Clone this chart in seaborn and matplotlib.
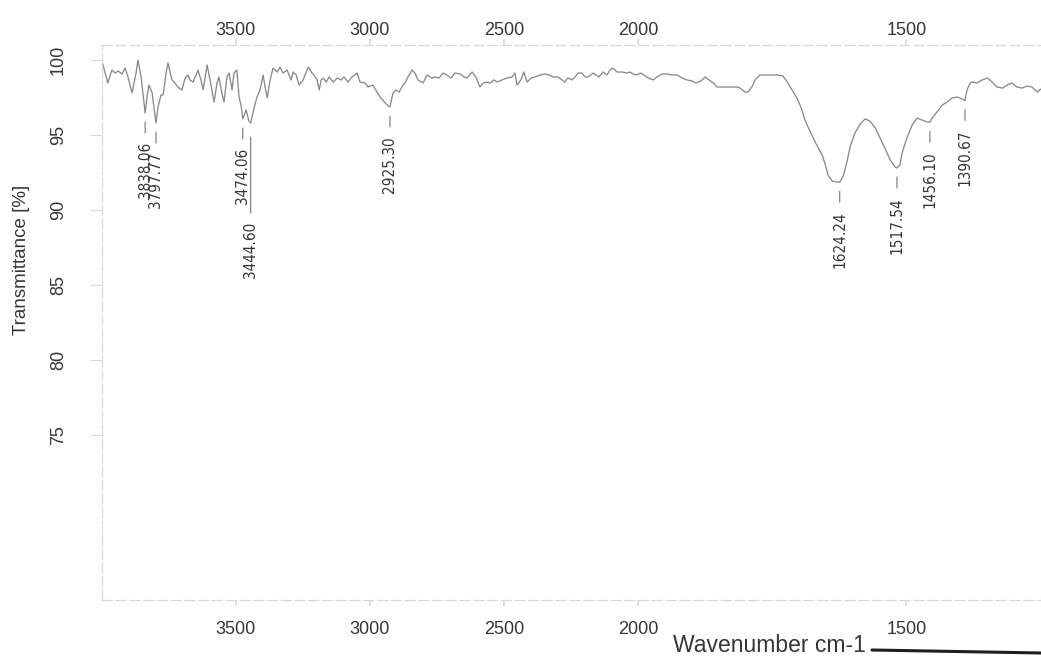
import numpy as np
import pandas as pd
import matplotlib
matplotlib.use("Agg")
import matplotlib.pyplot as plt
from matplotlib import font_manager as fm
from matplotlib.lines import Line2D
import seaborn as sns

# IR spectrum, wavenumber (cm-1) and transmittance (%)
wavenumber = [
    4000, 3977, 3962, 3950, 3939, 3924, 3913, 3902, 3887, 3872, 3865, 3853,
    3838.06, 3831, 3824, 3812, 3797.77, 3790, 3779, 3771, 3760, 3753, 3738,
    3727, 3716, 3701, 3689, 3678, 3671, 3660, 3648, 3641, 3630, 3622, 3607,
    3596, 3581, 3570, 3563, 3552, 3544, 3533, 3525, 3514, 3507, 3496, 3488,
    3480, 3474.06, 3462, 3451, 3444.60, 3432, 3421, 3410, 3398, 3391, 3383,
    3372, 3361, 3346, 3335, 3324, 3309, 3294, 3286, 3275, 3264, 3249, 3242,
    3230, 3216, 3208, 3197, 3189, 3182, 3175, 3163, 3152, 3137, 3122, 3107,
    3097, 3082, 3067, 3048, 3037, 3018, 3007, 2989, 2974, 2959, 2940,
    2925.30, 2914, 2903, 2891, 2877, 2869, 2858, 2843, 2832, 2821, 2802,
    2787, 2769, 2757, 2742, 2728, 2713, 2698, 2683, 2664, 2649, 2638, 2619,
    2605, 2590, 2578, 2564, 2552, 2537, 2526, 2508, 2489, 2470, 2459, 2452,
    2437, 2426, 2414, 2399, 2385, 2366, 2347, 2332, 2317, 2299, 2284, 2273,
    2262, 2247, 2235, 2224, 2209, 2198, 2187, 2168, 2157, 2146, 2131, 2116,
    2105, 2094, 2079, 2060, 2042, 2030, 2019, 2004, 1996, 1989, 1981, 1972,
    1965, 1955, 1946, 1937, 1927, 1918, 1909, 1899, 1892, 1883, 1875, 1870,
    1860, 1853, 1843, 1834, 1825, 1815, 1810, 1801, 1795, 1788, 1782, 1773,
    1760, 1741, 1730, 1722, 1713, 1704, 1696, 1689, 1679, 1670, 1664, 1657,
    1651, 1646, 1638, 1631, 1624.24, 1617, 1610, 1605, 1596, 1586, 1577,
    1568, 1558, 1549, 1540, 1530, 1521, 1517.54, 1512, 1508, 1499, 1489,
    1480, 1471, 1461, 1456.10, 1452, 1443, 1433, 1424, 1415, 1405, 1400,
    1390.67, 1387, 1381, 1377, 1368, 1359, 1349, 1340, 1331, 1321, 1312,
    1303, 1294, 1284, 1275, 1266, 1256, 1249,
]
transmittance = [
    100.0, 98.47, 99.33, 99.13, 99.27, 99.07, 99.47, 98.87, 97.8, 99.13, 100.0, 98.87,
    96.47, 97.53, 98.33, 97.8, 95.8, 96.87, 97.67, 97.67, 99.13, 99.8, 98.67,
    98.47, 98.2, 98.0, 98.8, 99.0, 98.67, 98.53, 99.0, 99.33, 98.67, 98.0, 99.67,
    98.67, 97.2, 98.47, 98.87, 97.8, 97.2, 98.87, 99.13, 98.0, 99.13, 99.33, 97.53,
    96.93, 96.07, 96.67, 95.93, 95.8, 96.8, 97.53, 98.0, 99.0, 98.2, 97.47,
    98.67, 99.47, 99.2, 99.53, 99.13, 99.33, 98.67, 99.2, 99.0, 98.33, 98.67, 99.0,
    99.53, 99.13, 99.0, 98.67, 98.0, 98.67, 98.8, 98.53, 98.87, 98.53, 98.8, 98.67,
    98.87, 98.53, 98.87, 99.13, 98.53, 98.47, 98.2, 98.33, 97.87, 97.47, 97.07,
    96.87, 97.8, 98.0, 97.87, 98.33, 98.47, 98.87, 99.33, 99.13, 98.67, 98.47,
    99.0, 98.8, 98.87, 98.8, 99.13, 99.0, 98.8, 99.13, 99.07, 98.87, 98.8, 99.2,
    98.87, 98.2, 98.47, 98.53, 98.47, 98.67, 98.53, 98.67, 98.8, 98.87, 99.13, 98.33,
    98.67, 99.2, 98.53, 98.8, 98.87, 99.0, 99.07, 99.0, 98.87, 98.87, 98.67, 98.53,
    98.8, 98.67, 98.87, 99.13, 99.13, 98.87, 98.87, 99.13, 99.0, 98.87, 99.2, 99.0,
    99.33, 99.47, 99.2, 99.2, 99.13, 99.2, 99.07, 99.0, 99.13, 99.0, 98.8, 98.67,
    98.87, 99.07, 99.07, 99.0, 99.0, 98.8, 98.67, 98.6, 98.47, 98.6, 98.87, 98.73,
    98.47, 98.2, 98.2, 98.2, 98.2, 98.2, 98.13, 97.87, 97.87, 98.2, 98.67, 99.0,
    99.0, 99.0, 98.93, 98.53, 98.0, 97.47, 96.8, 96.0, 95.2, 94.53, 94.13, 93.67,
    93.0, 92.33, 91.93, 91.87, 91.85, 92.33, 93.33, 94.2, 95.13, 95.73, 96.07,
    95.93, 95.47, 94.8, 94.13, 93.33, 92.87, 92.8, 93.0, 93.8, 94.8, 95.67,
    96.13, 96.0, 95.87, 95.85, 96.13, 96.53, 97.0, 97.2, 97.47, 97.53, 97.47,
    97.3, 98.0, 98.47, 98.53, 98.47, 98.67, 98.8, 98.53, 98.2, 98.13, 98.33,
    98.47, 98.2, 98.13, 98.27, 98.2, 97.87, 98.07,
]

# Picked peaks
peak_wavenumbers = [3838.06, 3797.77, 3474.06, 3444.60, 2925.30,
                    1624.24, 1517.54, 1456.10, 1390.67]

x_ticks = [3500, 3000, 2500, 2000, 1500]
y_ticks = [75, 80, 85, 90, 95, 100]

df = pd.DataFrame({"wavenumber": wavenumber, "transmittance": transmittance})

sns.set_theme(style="white")
available = {f.name for f in fm.fontManager.ttflist}
base_font = "Liberation Sans" if "Liberation Sans" in available else "DejaVu Sans"
plt.rcParams["font.family"] = [base_font, "DejaVu Sans"]

# a condensed face for the peak labels, if one is installed
peak_font = fm.FontProperties(family=[base_font, "DejaVu Sans"], size=10.5)
for entry in fm.fontManager.ttflist:
    if entry.name == "Liberation Sans Narrow" and entry.weight in (400, "normal", "regular") \
            and entry.style == "normal":
        peak_font = fm.FontProperties(fname=entry.fname, size=12)
        break
else:
    for entry in fm.fontManager.ttflist:
        if entry.stretch in ("condensed", "semi-condensed") and entry.style == "normal" \
                and entry.weight in (400, "normal", "regular") \
                and entry.name in ("Roboto", "Open Sans", "Noto Sans", "DejaVu Sans", "Inter"):
            peak_font = fm.FontProperties(fname=entry.fname, size=11)
            break

TEXT = "#363636"
FAINT = "#d9d9d9"

fig = plt.figure(figsize=(10.41, 6.60), dpi=100)
ax = fig.add_axes([0.0977, 0.0909, 0.9023, 0.8409])

sns.lineplot(data=df, x="wavenumber", y="transmittance", sort=False,
             estimator=None, color="#8a8a8a", linewidth=0.95, ax=ax)


# Spectrometer-style axis: the region below 2000 cm-1 is expanded two-fold
def _fwd(w):
    w = np.asarray(w, dtype=float)
    return np.where(w >= 2000, w, 2 * w - 2000)


def _inv(u):
    u = np.asarray(u, dtype=float)
    return np.where(u >= 2000, u, (u + 2000) / 2)


ax.set_xscale("function", functions=(_fwd, _inv))
ax.set_xlim(4000, 1249)
ax.set_ylim(64, 101)

ax.set_xticks(x_ticks)
ax.set_xticklabels([str(t) for t in x_ticks])
ax.set_yticks(y_ticks)
ax.set_yticklabels([str(t) for t in y_ticks])
ax.tick_params(axis="x", bottom=True, top=False, length=4, color=FAINT,
               labelsize=13, labelcolor=TEXT, pad=11)
ax.tick_params(axis="y", left=True, length=9, width=0.8, color=FAINT,
               labelsize=13, labelcolor=TEXT, pad=16)
for lbl in ax.get_yticklabels():
    lbl.set_rotation(90)
    lbl.set_va("center")

# duplicate wavenumber scale along the top edge
top = ax.twiny()
top.set_xscale("function", functions=(_fwd, _inv))
top.set_xlim(ax.get_xlim())
top.set_xticks(x_ticks)
top.set_xticklabels([str(t) for t in x_ticks])
top.tick_params(axis="x", length=4, color=FAINT, labelsize=13,
                labelcolor=TEXT, pad=0)
for s in top.spines.values():
    s.set_visible(False)
top.grid(False)

for name in ("top", "left", "bottom"):
    ax.spines[name].set_color(FAINT)
    ax.spines[name].set_linewidth(0.9)
    ax.spines[name].set_linestyle((0, (8, 3)))
ax.spines["right"].set_visible(False)

ax.set_xlabel("Wavenumber cm-1", fontsize=16.5, color=TEXT, va="center")
ax.xaxis.set_label_coords(0.7104, -0.082)
ax.set_ylabel("Transmittance [%]", fontsize=13.5, color=TEXT, va="center")
ax.yaxis.set_label_coords(-0.0849, 0.613)

# Peak labels hang below each band with a short leader line
peak_T = dict(zip(wavenumber, transmittance))
long_leader = {3444.60: 76}
for wn in peak_wavenumbers:
    t = peak_T[wn]
    gap = 14 if wn in long_leader else 9
    lead = long_leader.get(wn, 11)
    ax.annotate("", xy=(wn, t), xycoords="data",
                xytext=(0, -(gap + lead)), textcoords="offset pixels",
                arrowprops=dict(arrowstyle="-", color="#777777", lw=0.8,
                                shrinkA=0, shrinkB=gap * 0.72))
    ax.annotate(f"{wn:.2f}", xy=(wn, t), xycoords="data",
                xytext=(0, -(gap + lead + 9)), textcoords="offset pixels",
                rotation=90, ha="center", va="top",
                fontproperties=peak_font, color=TEXT)

# rule under the axis caption
fig.add_artist(Line2D([872 / 1041, 1.0], [1 - 650 / 660, 1 - 653 / 660],
                      color="#1e1e1e", linewidth=2.2))

fig.savefig("out.png", dpi=100)
